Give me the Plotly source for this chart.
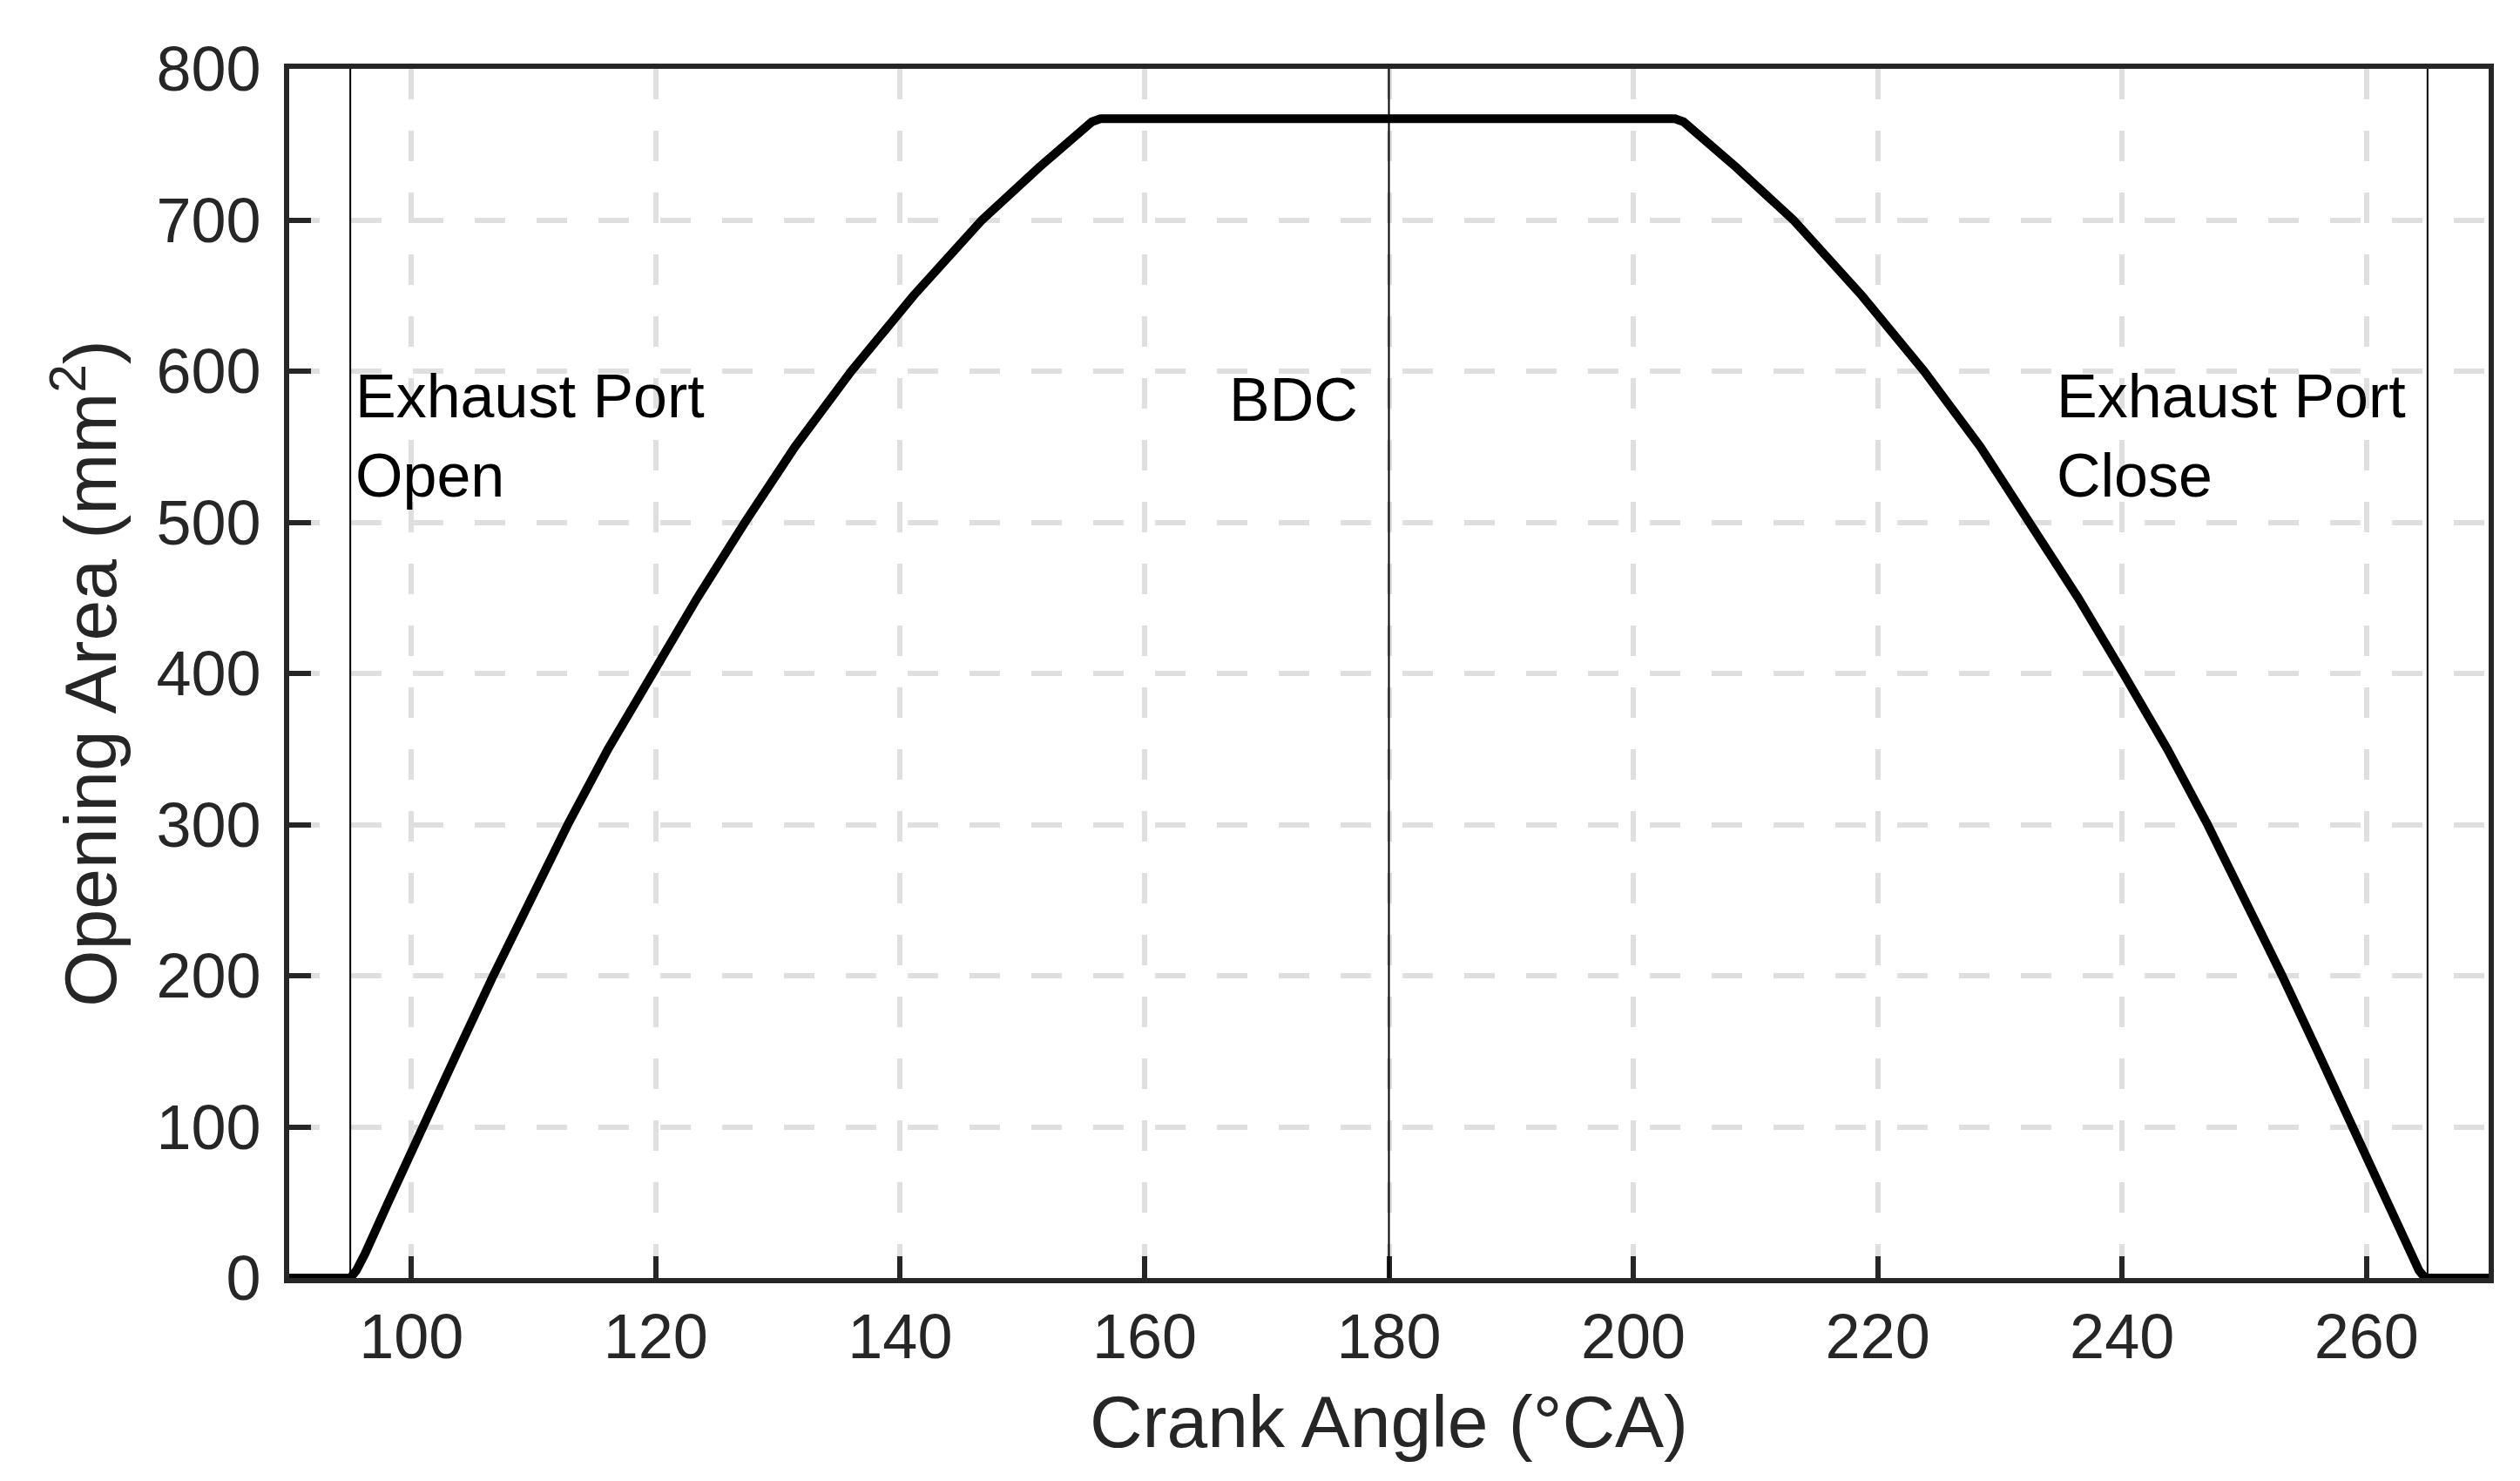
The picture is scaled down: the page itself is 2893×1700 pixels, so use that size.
import plotly.graph_objects as go

# exhaust port opening area vs crank angle
crank_angle = [90, 95.0, 95.5, 96.2, 98.1, 100.9, 103.8, 106.7, 109.7, 112.8,
               116.1, 119.7, 123.4, 127.3, 131.4, 136.0, 141.1, 146.7, 151.4, 155.7,
               156.4, 203.4, 204.1, 208.4, 213.1, 218.7, 223.8, 228.4, 232.5, 236.4,
               240.1, 243.7, 247.0, 250.1, 253.1, 256.0, 258.9, 261.7, 263.6, 264.3,
               264.8, 270]
opening_area = [0, 0, 5, 16, 50, 100, 150, 200, 250, 300,
                350, 400, 450, 500, 550, 600, 650, 700, 735, 765,
                767, 767, 765, 735, 700, 650, 600, 550, 500, 450,
                400, 350, 300, 250, 200, 150, 100, 50, 16, 5,
                0, 0]

# port events (vertical markers) and their labels
event_angles = [95, 180, 265]
event_labels = ["Exhaust Port<br>Open", "BDC", "Exhaust Port<br>Close"]

x_ticks = [100, 120, 140, 160, 180, 200, 220, 240, 260]
y_ticks = [0, 100, 200, 300, 400, 500, 600, 700, 800]

font_family = "Liberation Sans, Arial, Helvetica, sans-serif"
axis_color = "#262626"
grid_color = "#dfdfdf"

fig = go.Figure()

fig.add_trace(
    go.Scatter(
        x=crank_angle,
        y=opening_area,
        mode="lines",
        line=dict(color="black", width=10),
        showlegend=False,
    )
)

for angle in event_angles:
    fig.add_vline(x=angle, line=dict(color="black", width=2))

# label placement: left label sits right of its line, the others sit left of theirs
fig.add_annotation(x=event_angles[0], y=557, text=event_labels[0], xanchor="left",
                   align="left", xshift=4)
fig.add_annotation(x=event_angles[1], y=581, text=event_labels[1], xanchor="right",
                   align="right", xshift=-34)
fig.add_annotation(x=event_angles[2], y=557, text=event_labels[2], xanchor="right",
                   align="left", xshift=-23)
fig.update_annotations(showarrow=False, yanchor="middle",
                       font=dict(family=font_family, size=70, color="black"))

axis_style = dict(
    showline=True,
    linewidth=6,
    linecolor=axis_color,
    mirror=True,
    ticks="inside",
    ticklen=25,
    tickwidth=6,
    tickcolor=axis_color,
    tickfont=dict(family=font_family, size=72, color=axis_color),
    showgrid=True,
    gridcolor=grid_color,
    gridwidth=6,
    griddash="35px,36px",
    zeroline=False,
)

fig.update_xaxes(
    range=[90, 270],
    tickvals=x_ticks,
    title=dict(text="Crank Angle (°CA)", standoff=31,
               font=dict(family=font_family, size=84, color=axis_color)),
    automargin=False,
    **axis_style,
)
fig.update_yaxes(
    range=[0, 800],
    tickvals=y_ticks,
    ticklabelstandoff=12,
    title=dict(text="Opening Area (mm<sup>2</sup>)", standoff=20,
               font=dict(family=font_family, size=84, color=axis_color)),
    automargin=False,
    **axis_style,
)

fig.update_layout(
    width=2893,
    height=1700,
    margin=dict(l=324, r=44, t=71, b=241),
    plot_bgcolor="white",
    paper_bgcolor="white",
)

fig.write_html("out.html")
